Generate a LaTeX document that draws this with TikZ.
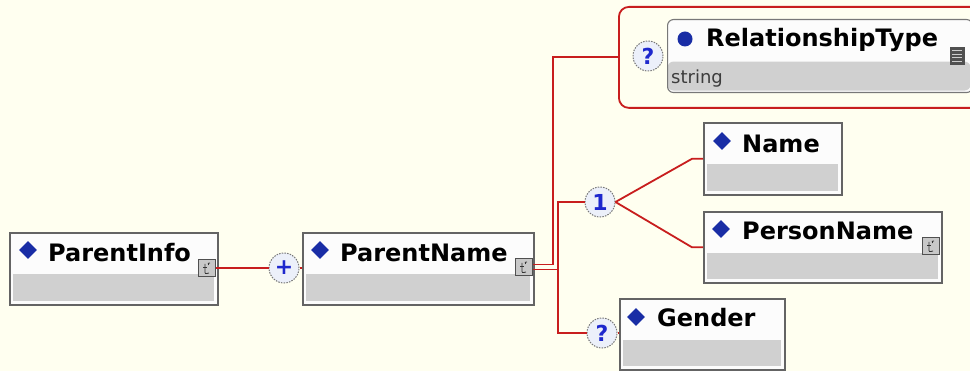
\documentclass[tikz,border=0pt]{standalone}
\usepackage{fontspec}
\setmainfont{DejaVu Sans}
\usetikzlibrary{shapes.geometric}
\definecolor{bg}{RGB}{255,255,240}
\definecolor{conred}{RGB}{200,30,30}
\definecolor{boxborder}{RGB}{100,100,100}
\definecolor{headfill}{RGB}{252,252,252}
\definecolor{bodyfill}{RGB}{208,208,208}
\definecolor{diamblue}{RGB}{25,45,165}
\definecolor{compfill}{RGB}{236,240,250}
\definecolor{compborder}{RGB}{120,120,120}
\definecolor{symblue}{RGB}{30,40,205}
\definecolor{icofill}{RGB}{200,200,200}
\definecolor{icodark}{RGB}{80,80,80}
\definecolor{typegrey}{RGB}{60,60,60}
\begin{document}
\begin{tikzpicture}[x=1pt,y=-1pt,
  elbox/.style={draw=boxborder, line width=1.6pt, fill=headfill, rectangle, inner sep=0pt, anchor=north west,
    path picture={\fill[bodyfill] ([xshift=3pt,yshift=-41pt]path picture bounding box.north west) rectangle ([xshift=-4pt,yshift=4pt]path picture bounding box.south east);}},
  attrbox/.style={draw=compborder, line width=1.1pt, fill=headfill, rounded corners=6pt, rectangle, inner sep=0pt, anchor=north west,
    path picture={\fill[bodyfill] ([yshift=-42pt]path picture bounding box.north west) rectangle ([xshift=-2pt,yshift=2pt]path picture bounding box.south east);}},
  grpframe/.style={draw=conred, line width=1.8pt, fill=bg, rounded corners=10pt, rectangle, inner sep=0pt, anchor=north west},
  comp/.style={circle, draw=compborder, dash pattern=on 1.5pt off 1.2pt, line width=1pt, fill=compfill, minimum size=30pt, inner sep=0pt,
    text=symblue, font=\fontsize{22}{22}\selectfont\bfseries},
  diam/.style={diamond, fill=diamblue, minimum width=18pt, minimum height=18pt, inner sep=0pt},
  attrdot/.style={circle, fill=diamblue, minimum size=15pt, inner sep=0pt},
  eltext/.style={anchor=base west, inner sep=0pt, font=\fontsize{24}{28}\selectfont\bfseries},
  typetext/.style={anchor=base west, inner sep=0pt, text=typegrey, font=\fontsize{18}{20}\selectfont},
  cxicon/.style={rectangle, draw=icodark, line width=1pt, fill=icofill, minimum size=17pt, inner sep=0pt},
  sticon/.style={rectangle, fill=icodark, minimum width=15pt, minimum height=18pt, inner sep=0pt},
  glyph/.style={draw=black!80, line width=0.8pt},
  conn/.style={draw=conred, line width=1.8pt}
]
\useasboundingbox (0,0) rectangle (970,371);
\clip (0,0) rectangle (970,371);
\fill[bg] (0,0) rectangle (970,371);

% ---- group frame with RelationshipType ----
\node[grpframe, minimum width=370pt, minimum height=101pt] (grp) at (618,6) {};
\node[comp] (q1) at (648,56) {?};
\node[attrbox, minimum width=305pt, minimum height=73pt] (rt) at (667,19) {};
\node[attrdot] (rtdot) at (685,39) {};
\node[eltext] (rtt) at (706,47) {RelationshipType};
\node[typetext] (rts) at (671,84) {string};
\node[sticon] (rtic) at (957,56) {};
\foreach \dy in {-5,-1.5,2,5.5} \draw[white!80!black, line width=1pt] ([xshift=-5pt,yshift=-\dy pt]rtic.center) -- ([xshift=5pt,yshift=-\dy pt]rtic.center);

% ---- ParentInfo ----
\node[elbox, minimum width=208pt, minimum height=72pt] (pi) at (9,232) {};
\node[diam] (pid) at (28,250) {};
\node[eltext] (pit) at (48,262) {ParentInfo};
\node[cxicon] (piic) at (207,268) {};

% ---- ParentName ----
\node[elbox, minimum width=231pt, minimum height=72pt] (pn) at (302,232) {};
\node[diam] (pnd) at (320,250) {};
\node[eltext] (pnt) at (340,262) {ParentName};
\node[cxicon] (pnic) at (524,267) {};

% ---- Name ----
\node[elbox, minimum width=138pt, minimum height=72pt] (nm) at (703,122) {};
\node[diam] (nmd) at (722,141) {};
\node[eltext] (nmt) at (742,153) {Name};

% ---- PersonName ----
\node[elbox, minimum width=238pt, minimum height=71pt] (psn) at (703,211) {};
\node[diam] (psnd) at (721,229) {};
\node[eltext] (psnt) at (742,240) {PersonName};
\node[cxicon] (psnic) at (931,246) {};

% ---- Gender ----
\node[elbox, minimum width=165pt, minimum height=71pt] (gd) at (619,298) {};
\node[diam] (gdd) at (636,317) {};
\node[eltext] (gdt) at (657,327) {Gender};

% ---- compositors ----
\node[comp] (plus) at (284,268) {+};
\node[comp] (one) at (600,202) {1};
\node[comp] (q2) at (602,333) {?};

% ---- complex type glyphs ----
\foreach \ic in {piic,pnic,psnic}{
  \draw[glyph] ([xshift=-2pt,yshift=4pt]\ic.center) -- ([xshift=-2pt,yshift=-3pt]\ic.center) .. controls ([xshift=-2pt,yshift=-6pt]\ic.center) .. ([xshift=2pt,yshift=-5pt]\ic.center);
  \draw[glyph] ([xshift=-4pt,yshift=1pt]\ic.center) -- ([xshift=0pt,yshift=1pt]\ic.center);
  \draw[glyph] ([xshift=3pt,yshift=5pt]\ic.center) .. controls ([xshift=1pt,yshift=5pt]\ic.center) .. ([xshift=1.5pt,yshift=3pt]\ic.center);
}

% ---- connectors ----
\coordinate (jA) at (553,0);
\coordinate (jB) at (558,0);
\coordinate (pnA) at ([yshift=2.5pt]pnic.east);
\coordinate (pnB) at ([yshift=-2.5pt]pnic.east);
\draw[conn] (piic.east) -- (plus.west);
\draw[conn] (plus.east) -- (pn.west |- plus.east);
\draw[conn] (pnA) -| (jA |- grp.west) -- (grp.west);
\draw[conn] (one.west) -| (jB |- pnB) -- (pnB);
\draw[conn] (q2.west) -| (jB |- pnB);
\draw[conn] (one.east) -- ([xshift=-11pt]nm.west) -- (nm.west);
\draw[conn] (one.east) -- ([xshift=-11pt]psn.west) -- (psn.west);
\draw[conn] (q2.east) -- (gd.west |- q2.east);
\end{tikzpicture}
\end{document}
